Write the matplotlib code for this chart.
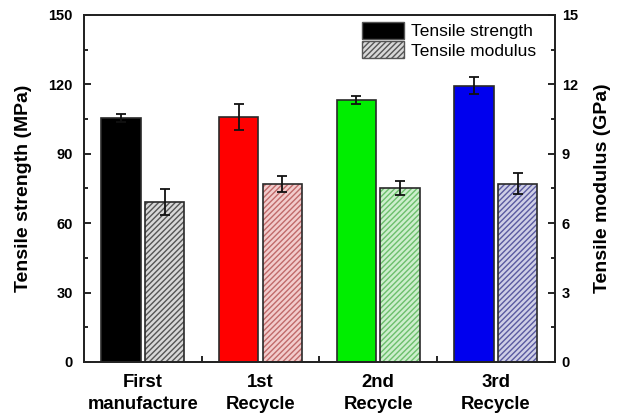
import matplotlib
matplotlib.use("Agg")
import matplotlib.pyplot as plt
from matplotlib.patches import Patch
from matplotlib.ticker import MultipleLocator, FixedLocator
import numpy as np

plt.rcParams['font.family'] = ['Liberation Sans', 'DejaVu Sans']
plt.rcParams['hatch.linewidth'] = 1.0

# Data
categories = ['First\nmanufacture', '1st\nRecycle', '2nd\nRecycle', '3rd\nRecycle']
strength = [105.3, 105.8, 113.3, 119.5]        # MPa
strength_err = [1.7, 5.7, 1.6, 3.6]
modulus = [6.92, 7.70, 7.52, 7.70]             # GPa
modulus_err = [0.56, 0.34, 0.30, 0.45]

solid_colors = ['#000000', '#ff0000', '#00ee00', '#0000ee']
hatch_fill = ['#d8d8d8', '#f2cccc', '#cdeecd', '#cfcfe6']
hatch_line = ['#555555', '#c06a6a', '#6cbf6c', '#5a5aa0']
edge = '#2a2a2a'

fig = plt.figure(figsize=(6.24, 4.16), dpi=100)
ax = fig.add_axes([0.1346, 0.130, 0.7544, 0.834])
ax2 = ax.twinx()

x = np.arange(1, len(categories) + 1)
w = 0.335
off = 0.185

ax.bar(x - off, strength, w, color=solid_colors, edgecolor=edge, linewidth=1.2, zorder=2)
ax.errorbar(x - off, strength, yerr=strength_err, fmt='none', ecolor='#111111',
            elinewidth=1.3, capsize=3.5, capthick=1.3, zorder=3)

ax2.bar(x + off, modulus, w, color=hatch_fill, edgecolor=hatch_line, linewidth=0,
        hatch='//////', zorder=2)
ax2.bar(x + off, modulus, w, fill=False, edgecolor=edge, linewidth=1.2, zorder=2.5)
ax2.errorbar(x + off, modulus, yerr=modulus_err, fmt='none', ecolor='#111111',
             elinewidth=1.3, capsize=3.5, capthick=1.3, zorder=3)

ax.set_xlim(0.5, 4.5)
ax.set_ylim(0, 150)
ax2.set_ylim(0, 15)

ax.yaxis.set_major_locator(MultipleLocator(30))
ax.yaxis.set_minor_locator(MultipleLocator(15))
ax2.yaxis.set_major_locator(MultipleLocator(3))
ax2.yaxis.set_minor_locator(MultipleLocator(1.5))

ax.set_xticks(x)
ax.set_xticklabels(categories, fontsize=13.3, fontweight='bold', linespacing=1.38)
ax.xaxis.set_minor_locator(FixedLocator([1.5, 2.5, 3.5]))
ax.tick_params(axis='x', which='major', length=0, pad=9)
ax.tick_params(axis='x', which='minor', direction='in', length=4, width=1.2)

ax.tick_params(axis='y', which='major', direction='in', length=5, width=1.2,
               labelsize=10.5, pad=8)
ax.tick_params(axis='y', which='minor', direction='in', length=3, width=1.2)
ax2.tick_params(axis='y', which='major', direction='in', length=5, width=1.2,
                labelsize=10.5, pad=5)
ax2.tick_params(axis='y', which='minor', direction='in', length=3, width=1.2)
for lab in ax.get_yticklabels() + ax2.get_yticklabels():
    lab.set_fontweight('bold')

for sp in ax.spines.values():
    sp.set_linewidth(1.3)
    sp.set_color('#222222')
for sp in ax2.spines.values():
    sp.set_linewidth(1.3)
    sp.set_color('#222222')

ax.set_ylabel('Tensile strength (MPa)', fontsize=14, fontweight='bold', labelpad=12)
ax2.set_ylabel('Tensile modulus (GPa)', fontsize=14, fontweight='bold', labelpad=12)

handles = [
    Patch(facecolor='#000000', edgecolor='#555555', linewidth=1.0, label='Tensile strength'),
    Patch(facecolor='#d8d8d8', edgecolor='#555555', linewidth=1.0, hatch='//////',
          label='Tensile modulus'),
]
ax2.legend(handles=handles, loc='upper right', frameon=False, fontsize=12.5,
           handlelength=2.4, handleheight=1.15, labelspacing=0.1, handletextpad=0.4,
           borderaxespad=0.2, borderpad=0.2, bbox_to_anchor=(0.975, 1.0))

fig.savefig('out.png', dpi=100)
